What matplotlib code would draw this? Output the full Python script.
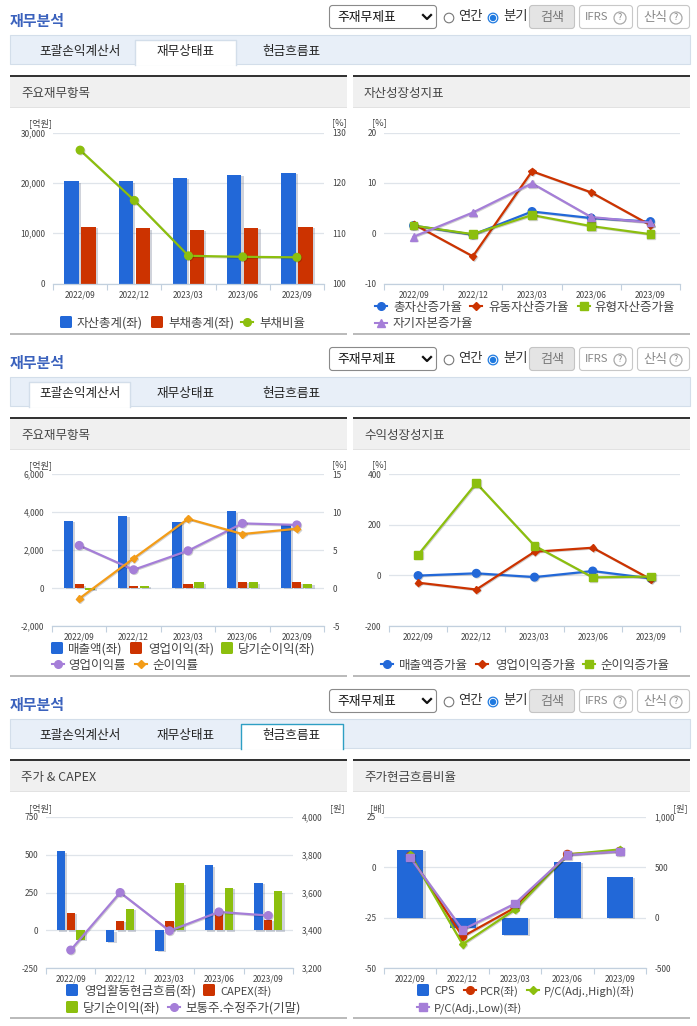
# coding: utf-8

import matplotlib
matplotlib.use('Agg')
import numpy as np
import matplotlib.pyplot as plt
import matplotlib.patheffects as pe
from matplotlib.patches import FancyBboxPatch, Rectangle, Circle

plt.rcParams['font.family'] = ['Noto Sans CJK KR', 'DejaVu Sans']

W, H = 697, 1026

BLUE = '#2268d8'
RED = '#cc3300'
GREEN = '#8cbf0e'
PURPLE = '#a57ed8'
ORANGE = '#f39c18'

quarters = ['2022/09', '2022/12', '2023/03', '2023/06', '2023/09']

# balance sheet
total_assets = [20300, 20300, 21000, 21650, 22050]
total_debt = [11300, 10950, 10700, 11050, 11300]
debt_ratio = [126.5, 116.5, 105.5, 105.3, 105.2]

# asset growth
g_assets = [1.5, -0.3, 4.3, 3.0, 2.3]
g_current = [1.8, -4.6, 12.3, 8.1, 1.6]
g_tangible = [1.5, -0.2, 3.6, 1.4, -0.2]
g_equity = [-0.7, 4.1, 9.9, 3.2, 2.1]

# income statement
sales = [3540, 3805, 3486, 4035, 3300]
op_income = [190, 80, 190, 340, 290]
net_income = [-100, 130, 290, 290, 230]
op_margin = [5.6, 2.4, 4.9, 8.5, 8.3]
net_margin = [-1.4, 3.9, 9.1, 7.1, 7.8]

# income growth
g_sales = [-1, 8, -7, 17, -12]
g_op = [-29, -56, 93, 109, -16]
g_net = [81, 364, 117, -8, -5]

# cash flow
op_cf = [522, -75, -135, 429, 316]
capex = [117, 64, 64, 120, 71]
cf_net_income = [-62, 144, 310, 283, 257]
adj_price = [3295, 3600, 3397, 3497, 3478]

# price / cash flow
cps = [675, -100, -172, 556, 407]
pcr = [5.6, -34.4, -20, 6.5, 8]
pc_high = [6.5, -38.2, -21, 6.4, 8.9]
pc_low = [4.8, -31, -18, 6.1, 7.9]

fig = plt.figure(figsize=(W / 100, H / 100), dpi=100, facecolor='white')

# overlay in pixel coords for the page chrome
ov = fig.add_axes([0, 0, 1, 1], zorder=0)
ov.set_xlim(0, W)
ov.set_ylim(H, 0)
ov.axis('off')


def box(x0, y0, x1, y1, fc, ec='none', lw=0.8, r=0):
    if r > 0:
        p = FancyBboxPatch((x0, y0), x1 - x0, y1 - y0, boxstyle='round,pad=0,rounding_size=%s' % r,
                           fc=fc, ec=ec, lw=lw)
    else:
        p = Rectangle((x0, y0), x1 - x0, y1 - y0, fc=fc, ec=ec, lw=lw)
    ov.add_patch(p)


def label(x, y, s, size=9, color='#333333', ha='left', weight='normal'):
    # the CJK font sits about a pixel high with va=center
    ov.text(x, y + 1, s, fontsize=size, color=color, ha=ha, va='center', weight=weight)


def page_chrome(dy, active, left_title, right_title):
    label(10, 20 + dy, '재무분석', size=10.8, color='#3b62bd', weight='bold')

    # search controls
    box(329.5, 5.5 + dy, 436.5, 28.5 + dy, 'white', '#8a8a8a', r=3)
    label(337, 17 + dy, '주재무제표', size=9.2, color='#111111')
    ov.plot([423, 427, 431], [15 + dy, 19 + dy, 15 + dy], color='#111111', lw=1.6)
    ov.add_patch(Circle((449, 18 + dy), 4.8, fc='white', ec='#777777', lw=0.8))
    label(458, 15 + dy, '연간', size=9.6)
    ov.add_patch(Circle((493, 18 + dy), 4.8, fc='white', ec='#1f7ae0', lw=0.9))
    ov.add_patch(Circle((493, 18 + dy), 3.2, fc='#1f7ae0'))
    label(503, 15 + dy, '분기', size=9.6)
    box(529.5, 5.5 + dy, 574.5, 28.5 + dy, '#e4e4e4', '#c4c4c4', r=3)
    label(552, 16 + dy, '검색', size=9.4, color='#777777', ha='center')
    box(579.5, 5.5 + dy, 632.5, 28.5 + dy, 'white', '#c8c8c8', r=3)
    label(585, 16 + dy, 'IFRS', size=8.2, color='#888888')
    box(637.5, 5.5 + dy, 689.5, 28.5 + dy, 'white', '#c8c8c8', r=3)
    label(643, 16 + dy, '산식', size=9.4, color='#888888')
    for cx in [620, 676]:
        ov.add_patch(Circle((cx, 18 + dy), 6, fc='white', ec='#aaaaaa', lw=0.9))
        label(cx, 17 + dy, '?', size=6.5, color='#888888', ha='center')

    # tabs
    box(10, 35 + dy, 690, 64 + dy, '#e8eff8', '#d3deea')
    tab_edges = {0: (29, 130), 1: (135, 236), 2: (241, 343)}
    x0, x1 = tab_edges[active]
    tab_col = '#2e9fc4' if active == 2 else '#d3deea'
    box(x0, 40 + dy, x1, 65 + dy, 'white')
    ov.plot([x0, x0, x1, x1], [64.5 + dy, 40 + dy, 40 + dy, 64.5 + dy], color=tab_col, lw=1)
    for cx, s in zip([80, 185.5, 291], ['포괄손익계산서', '재무상태표', '현금흐름표']):
        label(cx, 51 + dy, s, size=9.1, color='#222222', ha='center')

    # chart headers
    for x0, x1, s in [(10, 347, left_title), (353, 690, right_title)]:
        box(x0, 77 + dy, x1, 107 + dy, '#f0f0f0')
        box(x0, 75 + dy, x1, 77 + dy, '#333333')
        box(x0, 107 + dy, x1, 108 + dy, '#e2e2e2')
        box(x0, 332.8 + dy, x1, 334.8 + dy, '#bbbbbb')
        label(x0 + 11, 92 + dy, s, size=9, color='#444444')


def legend(entries):
    # entries: kind, handle x, text x, y, text, colour, marker
    for kind, hx, tx, y, s, col, mk, ms in entries:
        if kind == 'bar':
            box(hx, y - 6, hx + 12, y + 6, col, r=1.5)
        else:
            ov.plot([hx, hx + 12], [y, y], color=col, lw=1.5)
            ov.plot([hx + 6], [y], color=col, marker=mk, ms=ms, ls='none')
        # latin labels run wider in the original font
        label(tx, y, s, size=8 if s[0].isascii() else 9, color='#444444')


def make_axes(x0, x1, ytop, ybot, ylim, yticks, grid=True):
    ax = fig.add_axes([x0 / W, 1 - ybot / H, (x1 - x0) / W, (ybot - ytop) / H], zorder=1)
    ax.patch.set_visible(False)
    ax.set_xlim(0, 5)
    ax.set_ylim(*ylim)
    ax.set_yticks(yticks)
    ax.set_yticklabels(['{:,}'.format(v) for v in yticks])
    ax.tick_params(axis='y', length=0, pad=5.5, labelsize=6, labelcolor='#444444')
    ax.set_xticks(np.arange(6))
    ax.set_xticklabels([])
    ax.set_xticks(np.arange(5) + 0.5, quarters, minor=True)
    ax.tick_params(axis='x', which='major', length=4, color='#c2d0de', width=0.8)
    ax.tick_params(axis='x', which='minor', length=0, pad=5, labelsize=6, labelcolor='#444444')
    for side in ['left', 'right', 'top']:
        ax.spines[side].set_visible(False)
    ax.spines['bottom'].set_color('#c2d0de')
    ax.spines['bottom'].set_linewidth(0.9)
    if grid:
        ax.set_axisbelow(True)
        ax.grid(axis='y', color='#dfe4ea', lw=0.9)
    return ax


def right_axis(ax, ylim, yticks, grid=False):
    ax2 = ax.twinx()
    ax2.patch.set_visible(False)
    ax2.set_ylim(*ylim)
    ax2.set_yticks(yticks)
    ax2.set_yticklabels(['{:,}'.format(v) for v in yticks])
    ax2.tick_params(axis='y', length=0, pad=6, labelsize=6, labelcolor='#444444')
    for s in ax2.spines.values():
        s.set_visible(False)
    if grid:
        ax2.set_axisbelow(True)
        ax2.grid(axis='y', color='#dfe4ea', lw=0.9)
    return ax2


def bars(ax, series, colors, width, pitch):
    x = np.arange(5) + 0.5
    n = len(series)
    for i, (vals, col) in enumerate(zip(series, colors)):
        ax.bar(x + (i - (n - 1) / 2) * pitch, vals, width, color=col,
               path_effects=[pe.withSimplePatchShadow(offset=(1.6, -1), shadow_rgbFace='#667088', alpha=0.3)])


def line(ax, vals, col, marker, ms):
    x = np.arange(5) + 0.5
    ax.plot(x, vals, color=col, lw=1.6, marker=marker, ms=ms, mec=col,
            path_effects=[pe.SimpleLineShadow(offset=(0.6, -0.6), alpha=0.18), pe.Normal()])


for dy, active, lt, rt in [(0, 1, '주요재무항목', '자산성장성지표'),
                           (342, 0, '주요재무항목', '수익성장성지표'),
                           (684, 2, '주가 & CAPEX', '주가현금흐름비율')]:
    page_chrome(dy, active, lt, rt)

# balance sheet charts
ax = make_axes(53, 324, 132.5, 283.5, (0, 30000), [0, 10000, 20000, 30000])
bars(ax, [total_assets, total_debt], [BLUE, RED], 0.264, 0.315)
ax2 = right_axis(ax, (100, 130), [100, 110, 120, 130])
line(ax2, debt_ratio, GREEN, 'o', 5.5)

ax = make_axes(384, 680, 132.5, 283.5, (-10, 20), [-10, 0, 10, 20])
line(ax, g_assets, BLUE, 'o', 5.5)
line(ax, g_current, RED, 'D', 3.6)
line(ax, g_tangible, GREEN, 's', 5.5)
line(ax, g_equity, PURPLE, '^', 5.5)

# income charts
ax = make_axes(52, 324, 474, 626, (-2000, 6000), [-2000, 0, 2000, 4000, 6000])
bars(ax, [sales, op_income, net_income], [BLUE, RED, GREEN], 0.17, 0.2)
ax2 = right_axis(ax, (-5, 15), [-5, 0, 5, 10, 15])
line(ax2, op_margin, PURPLE, 'o', 5.5)
line(ax2, net_margin, ORANGE, 'D', 3.6)

ax = make_axes(389, 680, 474, 626, (-200, 400), [-200, 0, 200, 400])
line(ax, g_sales, BLUE, 'o', 5.5)
line(ax, g_op, RED, 'D', 3.6)
line(ax, g_net, GREEN, 's', 5.5)

# cash flow charts
ax = make_axes(46, 293, 817, 968, (-250, 750), [-250, 0, 250, 500, 750])
bars(ax, [op_cf, capex, cf_net_income], [BLUE, RED, GREEN], 0.168, 0.2)
ax2 = right_axis(ax, (3200, 4000), [3200, 3400, 3600, 3800, 4000])
line(ax2, adj_price, PURPLE, 'o', 5.5)

# lines on the left scale sit over the CPS bars of the right scale
ax = make_axes(384, 646, 817, 968, (-50, 25), [-50, -25, 0, 25], grid=False)
ax2 = right_axis(ax, (-500, 1000), [-500, 0, 500, 1000], grid=True)
ax.set_zorder(2)
ax2.set_zorder(1)
bars(ax2, [cps], [BLUE], 0.5, 0)
line(ax, pcr, RED, 'o', 5.5)
line(ax, pc_high, GREEN, 'D', 3.6)
line(ax, pc_low, PURPLE, 's', 5.5)

# units
for x, y, s in [(29, 122, '[억원]'), (332, 122, '[%]'), (372, 122, '[%]'),
                (29, 464, '[억원]'), (332, 464, '[%]'), (372, 464, '[%]'),
                (29, 807, '[억원]'), (330, 807, '[원]'), (370, 807, '[배]'), (673, 807, '[원]')]:
    label(x, y, s, size=6.6, color='#444444')

legend([
    ('bar', 60, 77, 322, '자산총계(좌)', BLUE, None, 0),
    ('bar', 151, 168, 322, '부채총계(좌)', RED, None, 0),
    ('line', 241, 259, 322, '부채비율', GREEN, 'o', 5.5),
    ('line', 375, 393, 306, '총자산증가율', BLUE, 'o', 5.5),
    ('line', 470, 488, 306, '유동자산증가율', RED, 'D', 3.6),
    ('line', 578, 594, 306, '유형자산증가율', GREEN, 's', 5.5),
    ('line', 375, 393, 323, '자기자본증가율', PURPLE, '^', 5.5),
    ('bar', 51, 68, 648, '매출액(좌)', BLUE, None, 0),
    ('bar', 130, 148, 648, '영업이익(좌)', RED, None, 0),
    ('bar', 221, 238, 648, '당기순이익(좌)', GREEN, None, 0),
    ('line', 52, 68, 664, '영업이익률', PURPLE, 'o', 5.5),
    ('line', 135, 152, 664, '순이익률', ORANGE, 'D', 3.6),
    ('line', 381, 399, 664, '매출액증가율', BLUE, 'o', 5.5),
    ('line', 476, 495, 664, '영업이익증가율', RED, 'D', 3.6),
    ('line', 583, 600, 664, '순이익증가율', GREEN, 's', 5.5),
    ('bar', 66, 84, 990, '영업활동현금흐름(좌)', BLUE, None, 0),
    ('bar', 203, 220, 990, 'CAPEX(좌)', RED, None, 0),
    ('bar', 66, 83, 1007, '당기순이익(좌)', GREEN, None, 0),
    ('line', 168, 185, 1007, '보통주.수정주가(기말)', PURPLE, 'o', 5.5),
    ('bar', 417, 434, 990, 'CPS', BLUE, None, 0),
    ('line', 464, 480, 990, 'PCR(좌)', RED, 'o', 5.5),
    ('line', 527, 544, 990, 'P/C(Adj.,High)(좌)', GREEN, 'D', 3.6),
    ('line', 417, 434, 1007, 'P/C(Adj.,Low)(좌)', PURPLE, 's', 5.5),
])

fig.savefig('out.png', dpi=100)
